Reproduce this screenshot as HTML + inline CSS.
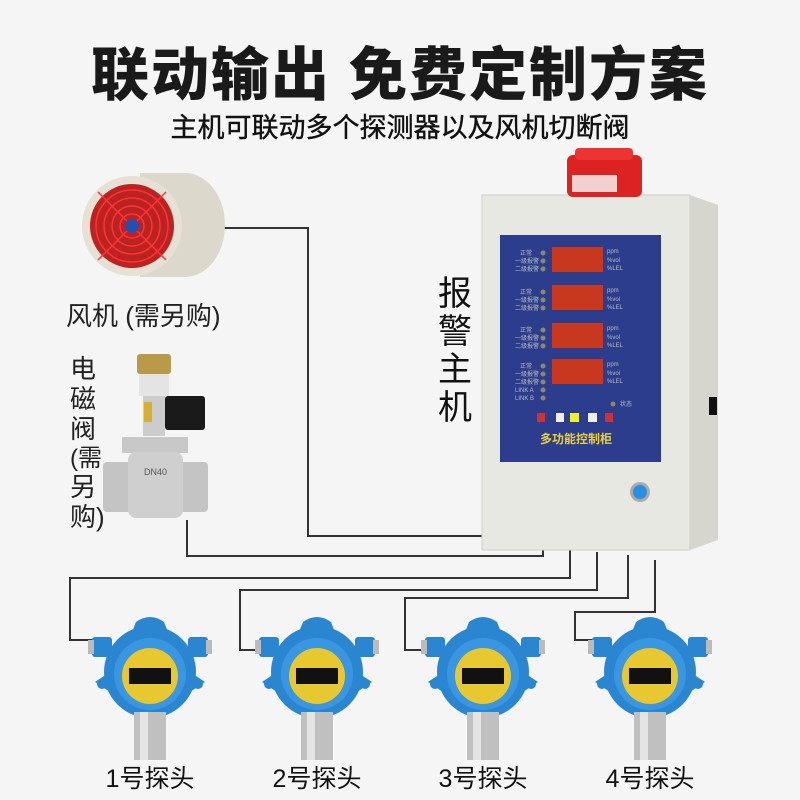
<!DOCTYPE html>
<html><head><meta charset="utf-8"><style>
body{margin:0;background:#f5f5f5;}
svg{display:block}
text{font-family:"Liberation Sans","Noto Sans CJK SC",sans-serif;}
</style></head><body>
<svg width="800" height="800" viewBox="0 0 800 800">
<rect width="800" height="800" fill="#f5f5f5"/>
<text x="400" y="95" text-anchor="middle" font-size="58" font-weight="900" fill="#1a1a1a" letter-spacing="2">联动输出 免费定制方案</text>
<text x="400" y="137" text-anchor="middle" font-size="27" fill="#111" stroke="#111" stroke-width="0.4">主机可联动多个探测器以及风机切断阀</text>

<!-- wires -->
<g fill="none" stroke="#333" stroke-width="2">
<polyline points="222,228 308,228 308,536 515,536 515,525"/>
<polyline points="187,520 187,556 543,556 543,540"/>
<polyline points="95,640 70,640 70,578 570,578 570,548"/>
<polyline points="262,650 240,650 240,590 597,590 597,552"/>
<polyline points="428,650 405,650 405,598 628,598 628,555"/>
<polyline points="595,640 575,640 575,612 655,612 655,560"/>
</g>

<!-- fan -->
<g>
<ellipse cx="185" cy="225" rx="40" ry="52" fill="#ddd8cc"/>
<rect x="140" y="173" width="45" height="104" fill="#ddd8cc"/>
<circle cx="132" cy="226" r="50" fill="#e6e1d4"/>
<circle cx="132" cy="226" r="42" fill="#b22"/>
<g fill="none" stroke="#f33" stroke-width="1.5">
<circle cx="132" cy="226" r="36"/><circle cx="132" cy="226" r="28"/><circle cx="132" cy="226" r="20"/><circle cx="132" cy="226" r="12"/>
<line x1="98" y1="192" x2="166" y2="260"/><line x1="166" y1="192" x2="98" y2="260"/>
</g>
<circle cx="132" cy="226" r="7" fill="#2350b0"/>
</g>
<text x="66" y="325" font-size="26" fill="#222">风机 (需另购)</text>

<!-- valve -->
<g font-size="26" fill="#222">
<text x="70" y="378">电</text><text x="70" y="408">磁</text><text x="70" y="438">阀</text>
<text x="70" y="466" font-size="24">(需</text><text x="70" y="496">另</text><text x="70" y="526">购)</text>
</g>
<rect x="137" y="354" width="34" height="20" rx="3" fill="#b89a4a"/>
<rect x="139" y="374" width="30" height="22" fill="#e4e4e4"/>
<rect x="143" y="396" width="22" height="40" fill="#ccc"/>
<rect x="144" y="402" width="8" height="20" fill="#d8b030"/>
<rect x="165" y="396" width="40" height="34" rx="3" fill="#1a1a1a"/>
<rect x="122" y="437" width="66" height="16" fill="#c8c8c8"/>
<rect x="103" y="462" width="105" height="50" rx="4" fill="#c4c4c4"/>
<rect x="128" y="452" width="55" height="66" rx="8" fill="#cfcfcf"/>
<text x="144" y="475" font-size="9" fill="#555">DN40</text>

<!-- control box -->
<polygon points="690,195 718,205 718,540 690,550" fill="#d6d6cf"/>
<rect x="482" y="195" width="208" height="355" fill="#e8e8e2" stroke="#cfcfc8"/>
<rect x="567" y="155" width="75" height="42" rx="6" fill="#d22"/>
<rect x="575" y="148" width="58" height="12" rx="4" fill="#e33"/>
<rect x="572" y="175" width="45" height="17" fill="#f3d0d0"/>
<rect x="500" y="235" width="161" height="227" fill="#2d3d8e"/>
<g fill="#c8381e">
<rect x="552" y="247" width="51" height="25"/>
<rect x="552" y="285" width="51" height="25"/>
<rect x="552" y="323" width="51" height="25"/>
<rect x="552" y="359" width="51" height="25"/>
</g>
<g fill="#bbb" font-size="6">
<text x="607" y="253">ppm</text><text x="607" y="262">%vol</text><text x="607" y="270">%LEL</text>
<text x="607" y="292">ppm</text><text x="607" y="301">%vol</text><text x="607" y="309">%LEL</text>
<text x="607" y="330">ppm</text><text x="607" y="339">%vol</text><text x="607" y="347">%LEL</text>
<text x="607" y="366">ppm</text><text x="607" y="375">%vol</text><text x="607" y="383">%LEL</text>
<text x="520" y="255">正常</text><text x="515" y="263">一级报警</text><text x="515" y="271">二级报警</text>
<text x="520" y="294">正常</text><text x="515" y="302">一级报警</text><text x="515" y="310">二级报警</text>
<text x="520" y="332">正常</text><text x="515" y="340">一级报警</text><text x="515" y="348">二级报警</text>
<text x="520" y="368">正常</text><text x="515" y="376">一级报警</text><text x="515" y="384">二级报警</text>
<text x="515" y="392">LINK A</text><text x="515" y="400">LINK B</text>
<text x="620" y="406">状态</text>
</g>
<g fill="#8a8a6a">
<circle cx="543" cy="253" r="2.5"/><circle cx="543" cy="261" r="2.5"/><circle cx="543" cy="269" r="2.5"/>
<circle cx="543" cy="292" r="2.5"/><circle cx="543" cy="300" r="2.5"/><circle cx="543" cy="308" r="2.5"/>
<circle cx="543" cy="330" r="2.5"/><circle cx="543" cy="338" r="2.5"/><circle cx="543" cy="346" r="2.5"/>
<circle cx="543" cy="366" r="2.5"/><circle cx="543" cy="374" r="2.5"/><circle cx="543" cy="382" r="2.5"/>
<circle cx="543" cy="390" r="2.5"/><circle cx="543" cy="398" r="2.5"/>
<circle cx="613" cy="404" r="2.5"/>
</g>
<rect x="537" y="413" width="8" height="9" fill="#c33"/>
<rect x="556" y="413" width="8" height="9" fill="#eee"/>
<rect x="570" y="413" width="9" height="9" fill="#ee3"/>
<rect x="588" y="413" width="9" height="9" fill="#eee"/>
<rect x="605" y="413" width="8" height="9" fill="#c33"/>
<text x="540" y="443" font-size="12" font-weight="bold" fill="#e8d040">多功能控制柜</text>
<circle cx="640" cy="492" r="10" fill="#aaa"/><circle cx="640" cy="492" r="7" fill="#2a8fe0"/>
<rect x="709" y="397" width="8" height="18" fill="#111"/>
<text x="438" y="305" font-size="34" fill="#111">报</text>
<text x="438" y="343" font-size="34" fill="#111">警</text>
<text x="438" y="381" font-size="34" fill="#111">主</text>
<text x="438" y="419" font-size="34" fill="#111">机</text>

<!-- detectors -->
<defs>
<g id="det">
<path d="M-14,-50 Q0,-60 14,-50 L20,-35 L-20,-35Z" fill="#2a86d0"/>
<rect x="-58" y="-35" width="20" height="20" rx="3" fill="#2a86d0"/>
<rect x="38" y="-35" width="20" height="20" rx="3" fill="#2a86d0"/>
<rect x="-62" y="-32" width="6" height="14" fill="#bbb"/>
<rect x="56" y="-32" width="6" height="14" fill="#bbb"/>
<path d="M-55,10 L-40,0 L-40,20Z M55,10 L40,0 L40,20Z" fill="#2a86d0"/>
<circle cx="-48" cy="12" r="5" fill="#2a86d0"/><circle cx="48" cy="12" r="5" fill="#2a86d0"/>
<circle cx="0" cy="0" r="46" fill="#2a86d0"/>
<circle cx="0" cy="2" r="36" fill="#3a96e0"/>
<circle cx="0" cy="4" r="28" fill="#e8c830"/>
<rect x="-21" y="-4" width="42" height="16" fill="#111"/>
<rect x="-16" y="40" width="32" height="48" fill="#c0c0c0"/>
<rect x="-10" y="40" width="8" height="48" fill="#e4e4e4"/>
</g>
</defs>
<use href="#det" x="150" y="672"/>
<use href="#det" x="317" y="672"/>
<use href="#det" x="483" y="672"/>
<use href="#det" x="650" y="672"/>
<g font-size="25" fill="#111" text-anchor="middle">
<text x="150" y="787">1号探头</text>
<text x="317" y="787">2号探头</text>
<text x="483" y="787">3号探头</text>
<text x="650" y="787">4号探头</text>
</g>
</svg>
</body></html>
